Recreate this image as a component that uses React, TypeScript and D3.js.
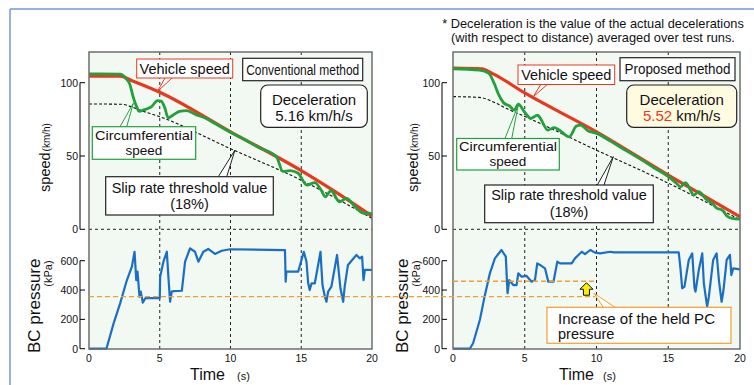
import React from 'react';
import * as d3 from 'd3';

// time axis ticks (s)
const timeTicks = [0, 5, 10, 15, 20];
const speedTicks = [0, 50, 100];
const pressureTicks = [0, 200, 400, 600];

// conventional method (left)
const convVehicle = [[0, 104.5], [2.2, 104.5], [3, 101.5], [5, 93.5], [10, 66.5], [15, 40], [17.5, 25], [20, 9]];
const convWheel = [[0, 106], [2.2, 105.8], [2.6, 103], [2.9, 98.5], [3.1, 91], [3.35, 84], [3.55, 80.5], [3.8, 81.2], [4.4, 83.5], [4.85, 87.8], [5.1, 87.5], [5.35, 83], [5.6, 76], [5.95, 78], [6.4, 80.5], [6.9, 81], [7.3, 79.5], [7.6, 78], [8, 76.8], [9, 71.6], [10, 66.2], [10.5, 63.7], [11, 61.2], [12, 55.8], [13.25, 49.5], [13.7, 39.5], [14.2, 40], [14.76, 38.4], [15.4, 30.2], [15.96, 31.8], [16.4, 26.8], [16.7, 22.2], [17.1, 26.3], [17.7, 18.8], [18.2, 21.1], [18.8, 15.4], [19.4, 10.9], [19.8, 11], [20, 10]];
const convThreshold = [[0, 85.5], [2.3, 85.3], [3, 83.5], [3.6, 81.3], [5, 76.8], [10, 55], [15, 33.5], [20, 7.5]];
const convPressure = [[0, 0], [1.23, 0], [1.74, 173], [2.2, 309], [2.68, 468], [3.03, 559], [3.22, 661], [3.34, 468], [3.43, 525], [3.57, 354], [3.66, 389], [3.8, 314], [3.97, 343], [4.1, 345], [5.0, 345], [5.03, 491], [5.26, 593], [5.5, 661], [5.61, 491], [5.73, 320], [5.85, 389], [5.97, 392], [6.56, 395], [6.79, 593], [7.14, 684], [7.49, 661], [7.73, 593], [8.08, 661], [8.43, 680], [8.9, 646], [9.38, 668], [9.97, 678], [13.85, 672], [13.9, 457], [13.95, 525], [14.78, 525], [15.18, 661], [15.37, 593], [15.49, 446], [15.6, 400], [15.73, 446], [15.96, 446], [16.36, 661], [16.5, 434], [16.67, 354], [16.78, 320], [16.9, 389], [17.13, 423], [17.53, 639], [17.77, 412], [17.96, 320], [18.07, 423], [18.3, 571], [18.9, 639], [19.13, 616], [19.3, 628], [19.4, 468], [19.5, 537], [20, 537]];

// proposed method (right)
const propVehicle = [[0, 110], [2, 109.5], [2.8, 106], [5, 93], [10, 66.5], [15, 37], [20, 8.5]];
const propWheel = [[0, 109.5], [1.85, 108.6], [2.5, 106.3], [2.87, 99.5], [3.2, 91.5], [3.57, 85.9], [3.92, 84.3], [4.27, 81.3], [4.55, 85.4], [4.97, 80.2], [5.43, 75.7], [5.9, 77.9], [6.1, 75.5], [6.6, 67.7], [7.06, 69.3], [7.4, 67.7], [8.1, 63.1], [8.6, 70.4], [8.9, 71.1], [9.4, 67.2], [10, 65.4], [11, 60], [12, 54], [13, 48.2], [14, 42], [15, 36], [15.5, 32], [15.85, 29], [16.2, 31.8], [16.8, 23.4], [17.1, 25.6], [17.7, 20], [18.06, 17.7], [18.4, 14.3], [18.76, 13.2], [19.1, 9], [19.46, 7.5], [20, 7]];
const propThreshold = [[0, 90.5], [1.8, 90], [3, 86], [3.7, 82.5], [5, 77], [10, 54], [15, 31.5], [20, 6.5]];
const propPressure = [[0, 0], [1.17, 0], [1.4, 37], [1.87, 196], [2.2, 355], [2.57, 514], [2.92, 616], [3.38, 673], [3.68, 628], [3.8, 378], [3.92, 468], [4.2, 434], [4.43, 434], [4.55, 514], [4.78, 491], [5.13, 496], [5.48, 457], [5.71, 468], [5.87, 582], [6.06, 571], [6.41, 548], [6.64, 457], [7.0, 457], [7.27, 593], [7.46, 582], [8.27, 582], [8.5, 616], [8.74, 639], [8.97, 661], [9.2, 645], [9.56, 673], [9.9, 655], [10.26, 650], [10.96, 661], [11.2, 657], [15.73, 657], [15.85, 548], [15.97, 412], [16.13, 423], [16.43, 605], [16.67, 650], [16.83, 412], [16.9, 389], [17.13, 537], [17.37, 650], [17.48, 446], [17.71, 287], [17.83, 355], [18.13, 605], [18.37, 650], [18.53, 468], [18.72, 320], [18.85, 400], [19.07, 605], [19.3, 639], [19.4, 502], [19.53, 548], [20, 541]];

// held pressure levels (kPa)
const heldConv = 355;
const heldProp = 460;

const FONT = '"Liberation Sans", Arial, Helvetica, sans-serif';
const RED = '#e8391e';
const GREEN = '#22a03c';
const BLUE = '#1a6fc4';
const ORANGE = '#f0a030';

const TOP = 52, BOTTOM = 349;
const ySpeed = d3.scaleLinear().domain([0, 100]).range([229.3, 82.7]);
const yPress = d3.scaleLinear().domain([0, 600]).range([348.7, 260.7]);

function Wedge({ pts, color }) {
  return <path d={`M${pts[0][0]},${pts[0][1]}L${pts[2][0]},${pts[2][1]}L${pts[1][0]},${pts[1][1]}`} fill="#fff" stroke={color} strokeWidth={1} />;
}

function Panel({ x0, x1, axisX, vehicle, wheel, threshold, pressure }) {
  const x = d3.scaleLinear().domain([0, 20]).range([x0, x1]);
  const smooth = d3.line().x(d => x(d[0])).y(d => ySpeed(d[1])).curve(d3.curveMonotoneX);
  const plain = d3.line().x(d => x(d[0])).y(d => yPress(d[1]));
  return (
    <g>
      <rect x={x0} y={TOP} width={x1 - x0} height={BOTTOM - TOP} fill="#f2f8f2" />
      {timeTicks.slice(1, 4).map(t => (
        <line key={t} x1={x(t)} x2={x(t)} y1={TOP} y2={BOTTOM} stroke="#222" strokeWidth={1} strokeDasharray="3,3" />
      ))}
      <line x1={x0} x2={x1} y1={ySpeed(0)} y2={ySpeed(0)} stroke="#222" strokeWidth={1} strokeDasharray="3,3" />
      <path d={smooth(threshold)} fill="none" stroke="#111" strokeWidth={1.1} strokeDasharray="3,2" />
      <path d={smooth(vehicle)} fill="none" stroke={RED} strokeWidth={3.2} />
      <path d={smooth(wheel)} fill="none" stroke={GREEN} strokeWidth={2.8} strokeLinejoin="round" />
      <path d={plain(pressure)} fill="none" stroke={BLUE} strokeWidth={2.2} strokeLinejoin="round" />
      <rect x={x0} y={TOP} width={x1 - x0} height={BOTTOM - TOP} fill="none" stroke="#6e6e6e" strokeWidth={1.5} />
      {/* y axes */}
      <line x1={axisX} x2={axisX} y1={ySpeed(0)} y2={ySpeed(100)} stroke="#000" strokeWidth={1} />
      {speedTicks.map(v => (
        <g key={v}>
          <line x1={axisX} x2={axisX + 5} y1={ySpeed(v)} y2={ySpeed(v)} stroke="#000" strokeWidth={1} />
          <text x={axisX - 2} y={ySpeed(v) + 3.8} fontSize={10.5} textAnchor="end">{v}</text>
        </g>
      ))}
      <line x1={axisX} x2={axisX} y1={yPress(0)} y2={yPress(600)} stroke="#000" strokeWidth={1} />
      {pressureTicks.map(v => (
        <g key={v}>
          <line x1={axisX} x2={axisX + 5} y1={yPress(v)} y2={yPress(v)} stroke="#000" strokeWidth={1} />
          <text x={axisX - 2} y={yPress(v) + 3.8} fontSize={10.5} textAnchor="end">{v}</text>
        </g>
      ))}
      {timeTicks.map(t => (
        <text key={t} x={x(t)} y={361.5} fontSize={10.5} textAnchor="middle">{t}</text>
      ))}
    </g>
  );
}

function AxisTitles({ dx }) {
  return (
    <g>
      <text transform={`translate(${49.5 + dx},157.5) rotate(-90)`} textAnchor="middle">
        <tspan fontSize={14.5}>speed</tspan><tspan fontSize={10} dx={1}>(km/h)</tspan>
      </text>
      <text transform={`translate(${39.5 + dx},353) rotate(-90)`} fontSize={17}>BC pressure</text>
      <text transform={`translate(${52 + dx},286.7) rotate(-90)`} fontSize={11}>(kPa)</text>
    </g>
  );
}

export default function App() {
  const xProp = d3.scaleLinear().domain([0, 20]).range([453, 740]);
  return (
    <svg width={754} height={385} style={{ position: 'absolute', left: 0, top: 0, background: '#fff' }} fontFamily={FONT} fill="#111">
      <line x1={10} x2={754} y1={9} y2={9} stroke="#7596d4" strokeWidth={1.5} />
      <line x1={10} x2={10} y1={9} y2={385} stroke="#7596d4" strokeWidth={1.5} />

      <text x={593} y={27.5} fontSize={12.8} textAnchor="middle">* Deceleration is the value of the actual decelerations</text>
      <text x={593} y={42} fontSize={12.8} textAnchor="middle">(with respect to distance) averaged over test runs.</text>

      <Panel x0={89} x1={372} axisX={80} vehicle={convVehicle} wheel={convWheel} threshold={convThreshold} pressure={convPressure} />
      <Panel x0={453} x1={740} axisX={442} vehicle={propVehicle} wheel={propWheel} threshold={propThreshold} pressure={propPressure} />

      <AxisTitles dx={0} />
      <AxisTitles dx={368} />

      <text x={190} y={380} fontSize={16}>Time</text>
      <text x={237} y={380} fontSize={11}>(s)</text>
      <text x={559} y={380} fontSize={16}>Time</text>
      <text x={603} y={380} fontSize={11}>(s)</text>

      {/* held pressure levels */}
      <line x1={89} x2={595} y1={yPress(heldConv)} y2={yPress(heldConv)} stroke={ORANGE} strokeWidth={1.3} strokeDasharray="5,3" />
      <line x1={453} x2={595} y1={yPress(heldProp)} y2={yPress(heldProp)} stroke={ORANGE} strokeWidth={1.3} strokeDasharray="5,3" />
      <path d={`M${xProp(9.3)},${yPress(heldProp) + 1.5} l-6.5,6.5 h3.5 v6 h6 v-6 h3.5 z`} fill="#ffee00" stroke="#111" strokeWidth={1} />

      {/* left annotations */}
      <Wedge pts={[[165, 78], [172, 78], [157.3, 91.7]]} color={RED} />
      <rect x={136.7} y={59} width={96} height={19} fill="#fff" stroke={RED} strokeWidth={1} />
      <text x={184.7} y={73.5} fontSize={14.5} textAnchor="middle">Vehicle speed</text>

      <rect x={242.7} y={58.3} width={120} height={22.4} fill="#fff" stroke="#222" strokeWidth={1.2} />
      <text x={302.7} y={74.5} fontSize={14} textAnchor="middle" textLength={113} lengthAdjust="spacingAndGlyphs">Conventional method</text>

      <rect x={260.7} y={85} width={106.6} height={42.3} rx={7} fill="#fff" stroke="#222" strokeWidth={1.2} />
      <text x={314} y={104.5} fontSize={15} textAnchor="middle">Deceleration</text>
      <text x={314} y={121} fontSize={15} textAnchor="middle">5.16 km/h/s</text>

      <Wedge pts={[[120, 126.7], [126.7, 126.7], [133.3, 103.3]]} color={GREEN} />
      <rect x={92.3} y={126.7} width={103.4} height={32.6} fill="#fff" stroke={GREEN} strokeWidth={1.2} />
      <text x={144} y={140.3} fontSize={13.2} textAnchor="middle" textLength={98} lengthAdjust="spacingAndGlyphs">Circumferential</text>
      <text x={144} y={155.3} fontSize={13.5} textAnchor="middle">speed</text>

      <Wedge pts={[[218.3, 176.7], [226.7, 176.7], [235, 150]]} color="#222" />
      <rect x={105.7} y={176.7} width={167.6} height={38.3} fill="#fff" stroke="#222" strokeWidth={1.2} />
      <text x={189.5} y={192.5} fontSize={14.5} textAnchor="middle">Slip rate threshold value</text>
      <text x={189.5} y={209} fontSize={14.5} textAnchor="middle">(18%)</text>

      {/* right annotations */}
      <Wedge pts={[[540.7, 84.5], [547.3, 84.5], [533.3, 96.7]]} color={RED} />
      <rect x={518} y={65} width={96.7} height={19.5} fill="#fff" stroke={RED} strokeWidth={1} />
      <text x={566.3} y={79.8} fontSize={14.5} textAnchor="middle">Vehicle speed</text>

      <rect x={620} y={57.7} width={115} height={23} fill="#fff" stroke="#222" strokeWidth={1.2} />
      <text x={677.5} y={74.3} fontSize={14} textAnchor="middle" textLength={106} lengthAdjust="spacingAndGlyphs">Proposed method</text>

      <rect x={626.7} y={85} width={110} height={42.3} rx={7} fill="#fffbe0" stroke="#222" strokeWidth={1.2} />
      <text x={681.7} y={104.5} fontSize={15} textAnchor="middle">Deceleration</text>
      <text x={681.7} y={121} fontSize={15} textAnchor="middle"><tspan fill={RED}>5.52</tspan> km/h/s</text>

      <Wedge pts={[[505, 138.5], [511.7, 138.5], [518.3, 105]]} color={GREEN} />
      <rect x={456.7} y={138.5} width={102.6} height={31.5} fill="#fff" stroke={GREEN} strokeWidth={1.2} />
      <text x={508} y={151.3} fontSize={13.2} textAnchor="middle" textLength={98} lengthAdjust="spacingAndGlyphs">Circumferential</text>
      <text x={508} y={166.3} fontSize={13.5} textAnchor="middle">speed</text>

      <Wedge pts={[[597.3, 185], [604, 185], [613.3, 156.7]]} color="#222" />
      <rect x={484.7} y={185} width={168.6} height={37.7} fill="#fff" stroke="#222" strokeWidth={1.2} />
      <text x={569} y={200} fontSize={14.5} textAnchor="middle">Slip rate threshold value</text>
      <text x={569} y={216.5} fontSize={14.5} textAnchor="middle">(18%)</text>

      <Wedge pts={[[603.3, 307.3], [615, 307.3], [594, 293.3]]} color={ORANGE} />
      <rect x={547} y={307.3} width={184} height={36} fill="#fff" stroke={ORANGE} strokeWidth={1.2} />
      <text x={558} y={323.5} fontSize={14.5} textLength={157} lengthAdjust="spacingAndGlyphs">Increase of the held PC</text>
      <text x={558} y={338.5} fontSize={14.5}>pressure</text>
    </svg>
  );
}
